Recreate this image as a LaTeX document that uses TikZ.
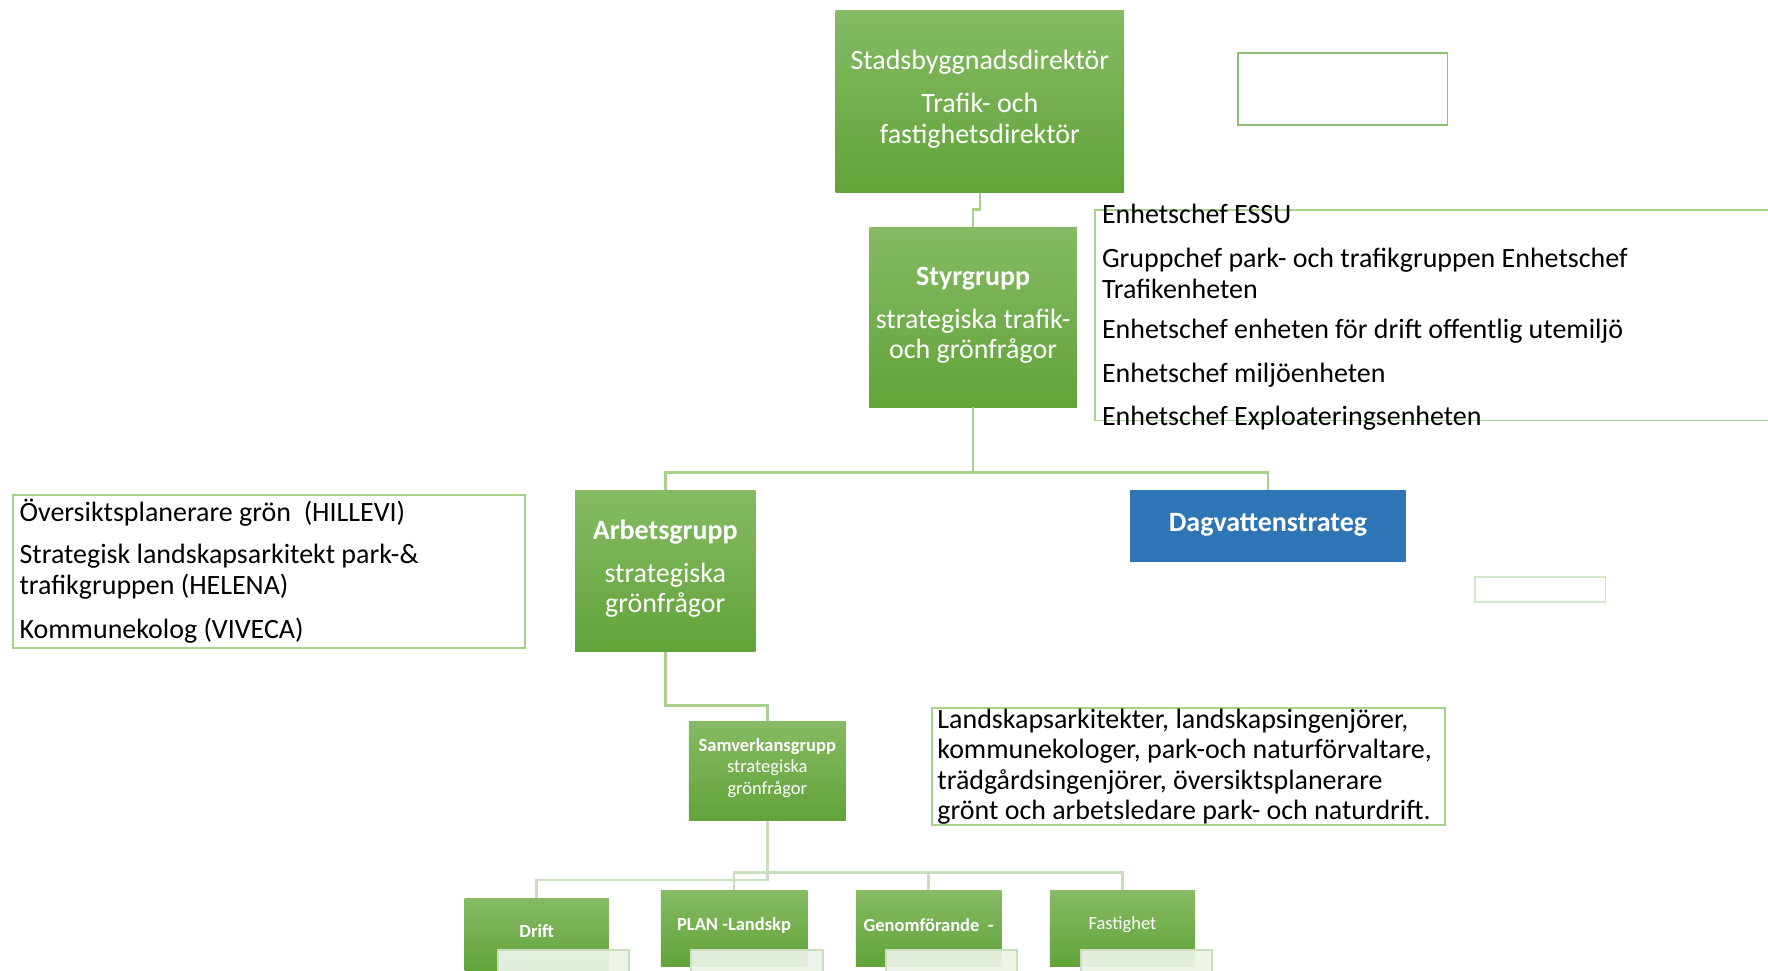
\documentclass[tikz,border=0pt]{standalone}
\usepackage{fontspec}
\setmainfont{Carlito}
\usetikzlibrary{calc}
\definecolor{gtop}{RGB}{133,187,100}
\definecolor{gbot}{RGB}{98,163,57}
\definecolor{connc}{RGB}{169,209,142}
\definecolor{lconnc}{RGB}{200,222,188}
\definecolor{dblue}{RGB}{46,117,182}
\definecolor{ltfill}{RGB}{238,244,233}
\definecolor{frame}{RGB}{169,209,142}
\definecolor{darkframe}{RGB}{143,191,111}
\definecolor{paleframe}{RGB}{213,232,203}
\begin{document}
\begin{tikzpicture}[x=0.5pt,y=-0.5pt,
  big/.style={font=\fontsize{12.4}{13.5}\selectfont},
  small/.style={font=\fontsize{8.2}{9.6}\selectfont},
  gbox/.style={top color=gtop,bottom color=gbot,draw=none,inner sep=0pt},
  gtxt/.style={text=white,align=center,inner sep=0pt},
  bbox/.style={fill=dblue,draw=none,inner sep=0pt},
  lbox/.style={fill=ltfill,fill opacity=0.92,draw=lconnc,line width=0.8pt,inner sep=0pt,anchor=north west},
  ebox/.style={draw=frame,line width=0.8pt,fill=white,inner sep=0pt,anchor=north west},
  conn/.style={draw=connc,line width=1.1pt},
  lconn/.style={draw=lconnc,line width=1.1pt},
  txt/.style={big,anchor=west,align=left,inner sep=0pt,text=black}]
\useasboundingbox (0,0) rectangle (1568,861);
\fill[white] (0,0) rectangle (1568,861);

% main boxes
\node[gbox,minimum width=128pt,minimum height=81pt] (top) at (869,90) {};
\node[gtxt,big] (topt) at (869,88)
  {Stadsbyggnadsdirektör\\[5.5pt]Trafik- och\\fastighetsdirektör};
\node[gbox,minimum width=92pt,minimum height=79.5pt] (sty) at (863,281.5) {};
\node[gtxt,big] (styt) at (863,279.5)
  {\textbf{Styrgrupp}\\[5.5pt]strategiska trafik-\\och grönfrågor};
\node[gbox,minimum width=80pt,minimum height=71.5pt] (arb) at (590,506.5) {};
\node[gtxt,big] (arbt) at (590,504.5)
  {\textbf{Arbetsgrupp}\\[5.5pt]strategiska\\grönfrågor};
\node[bbox,minimum width=122.5pt,minimum height=31.5pt] (dag) at (1124.5,466.5) {};
\node[gtxt,big] (dagt) at (1124.5,465.5) {\textbf{Dagvattenstrateg}};
\node[gbox,minimum width=69.5pt,minimum height=44pt] (sam) at (680.5,684) {};
\node[gtxt,small] (samt) at (680.5,681)
  {\textbf{Samverkansgrupp}\\strategiska\\grönfrågor};
\node[gbox,minimum width=64pt,minimum height=32pt] (drift) at (476,829) {};
\node[gtxt,small] (driftt) at (476,826) {\textbf{Drift}};
\node[gbox,minimum width=65pt,minimum height=33.5pt] (plan) at (651,823.5) {};
\node[gtxt,small] (plant) at (651,820.5) {\textbf{PLAN -Landskp}};
\node[gbox,minimum width=64.5pt,minimum height=33.5pt] (gen) at (823.5,823.5) {};
\node[gtxt,small] (gent) at (823.5,820.5) {\textbf{Genomförande\ \ -}};
\node[gbox,minimum width=64.5pt,minimum height=33.5pt] (fast) at (995.5,823.5) {};
\node[gtxt,small] (fastt) at (995.5,820.5) {Fastighet};

% light overlay boxes at the bottom
\node[lbox,minimum width=58pt,minimum height=16pt] (ld) at (441,842) {};
\node[lbox,minimum width=58.5pt,minimum height=16pt] (lp) at (612,842) {};
\node[lbox,minimum width=58pt,minimum height=16pt] (lg) at (785,842) {};
\node[lbox,minimum width=58pt,minimum height=16pt] (lf) at (958,842) {};

% empty boxes
\node[draw=darkframe,line width=0.8pt,inner sep=0pt,anchor=north west,minimum width=93pt,minimum height=32pt] (etr) at (1097,46) {};
\node[draw=paleframe,line width=0.8pt,inner sep=0pt,anchor=north west,minimum width=58pt,minimum height=11pt] (esm) at (1307,511) {};

% right list frame (open to the right)
\draw[draw=frame,line width=0.8pt] (1580,186) -- (971,186) -- (971,373) -- (1580,373);
\node[txt] (r1) at (977,189.5) {Enhetschef ESSU};
\node[txt] (r2) at (977,242.5) {Gruppchef park- och trafikgruppen Enhetschef\\Trafikenheten};
\node[txt] (r3) at (977,294) {Enhetschef enheten för drift offentlig utemiljö};
\node[txt] (r4) at (977,332.5) {Enhetschef miljöenheten};
\node[txt] (r5) at (977,370.5) {Enhetschef Exploateringsenheten};

% left list box
\node[ebox,minimum width=227pt,minimum height=68pt] (lbx) at (11,438) {};
\node[txt] (l1) at (17,455) {Översiktsplanerare grön\ \ (HILLEVI)};
\node[txt] (l2) at (17,507) {Strategisk landskapsarkitekt park-\&\\trafikgruppen (HELENA)};
\node[txt] (l3) at (17,559) {Kommunekolog (VIVECA)};

% landscape box
\node[ebox,minimum width=227.5pt,minimum height=52pt] (lsb) at (826,627) {};
\node[txt] (ls) at (831,680) {Landskapsarkitekter, landskapsingenjörer,\\kommunekologer, park-och naturförvaltare,\\trädgårdsingenjörer, översiktsplanerare\\grönt och arbetsledare park- och naturdrift.};

% connectors
\coordinate (j1) at (863,186);
\coordinate (j2) at (863,419);
\coordinate (j3) at (823.5,774);
\draw[conn] (top.south) |- (j1) -- (sty.north);
\draw[conn] (sty.south) -- (j2);
\draw[conn] (j2) -| (arb.north);
\draw[conn] (j2) -| (dag.north);
\draw[conn] (arb.south) |- ($(sam.north)+(0,-14)$) -- (sam.north);
\draw[lconn] (sam.south) |- ($(drift.north)+(0,-16)$) -- (drift.north);
\draw[lconn] (plan.north) |- (j3) -| (fast.north);
\draw[lconn] (j3) -- (gen.north);
\end{tikzpicture}
\end{document}
